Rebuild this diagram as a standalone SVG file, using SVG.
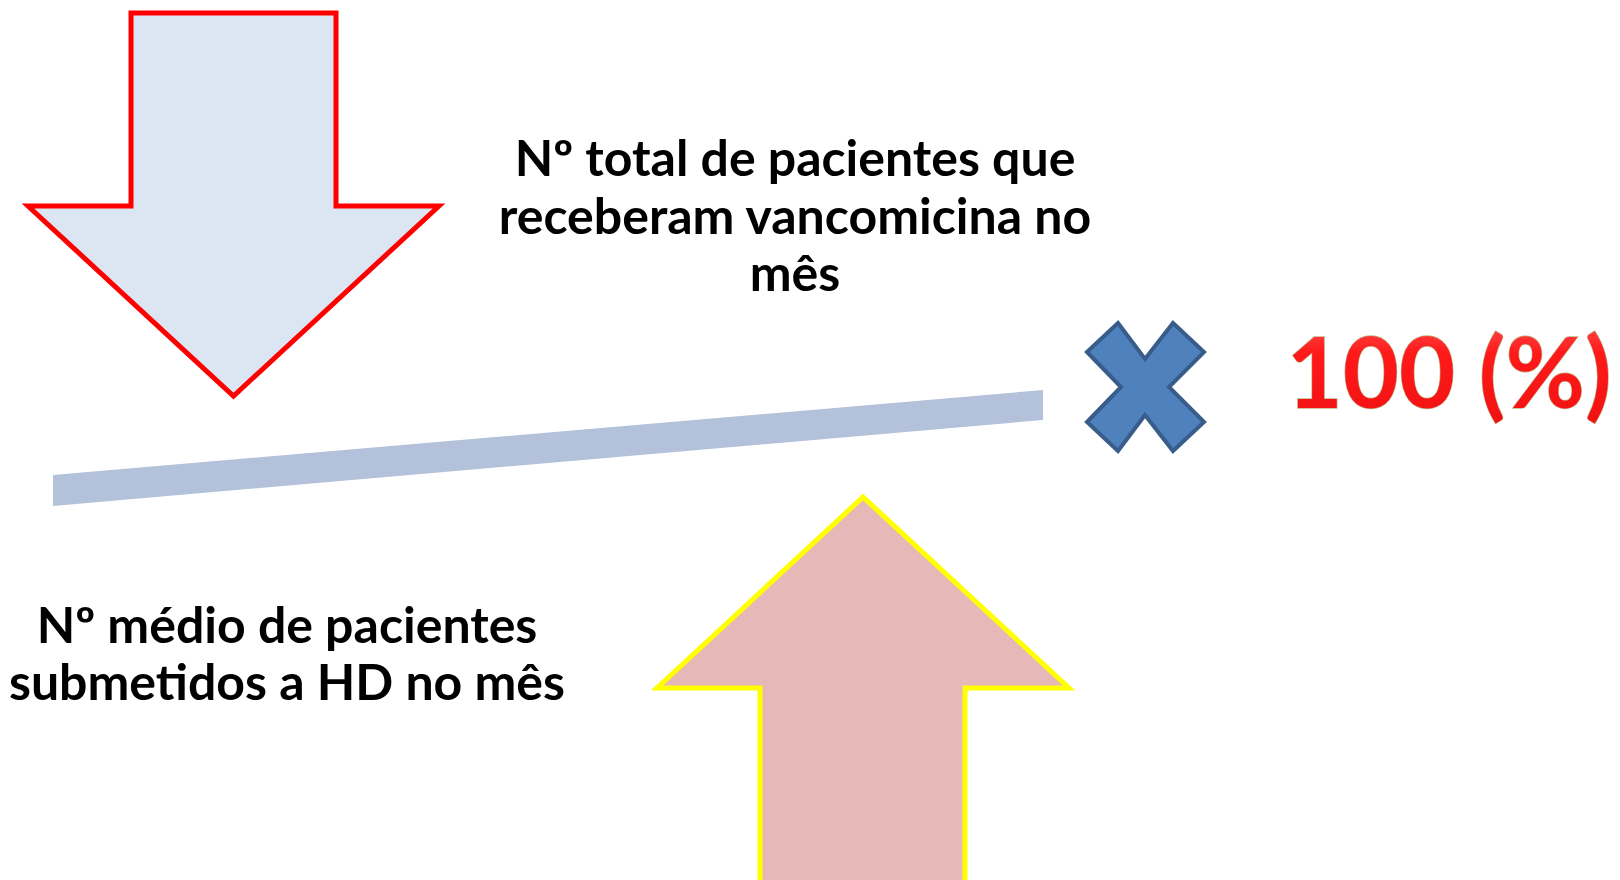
<svg xmlns="http://www.w3.org/2000/svg" width="1620" height="880" viewBox="0 0 1620 880">
  <defs>
    <linearGradient id="redGloss" x1="0" y1="0" x2="0" y2="1">
      <stop offset="0" stop-color="#FF5A5A"/>
      <stop offset="0.35" stop-color="#FF1A1A"/>
      <stop offset="1" stop-color="#F01010"/>
    </linearGradient>
  </defs>
  <style>
    .lbl { font-family: Lato, "Open Sans", "Liberation Sans", sans-serif; font-weight: 700; font-size: 50px; fill: #000000; text-anchor: middle; }
    .pct { font-family: Lato, "Open Sans", "Liberation Sans", sans-serif; font-weight: 700; font-size: 97px; fill: url(#redGloss); stroke: #C2B488; stroke-width: 1.3px; paint-order: stroke; text-anchor: middle; }
    .arrowDown { fill: #DCE6F2; stroke: #FF0000; stroke-width: 5; stroke-linejoin: miter; }
    .arrowUp { fill: #E6B8B7; stroke: #FFFF00; stroke-width: 5; stroke-linejoin: miter; }
  </style>
  <rect width="1620" height="880" fill="#FFFFFF"/>

  <g id="arrow-down">
    <polygon class="arrowDown" points="131,13 336,13 336,206 439,206 233.5,396 28,206 131,206"/>
  </g>

  <g id="arrow-up">
    <polygon class="arrowUp" points="863,497 1069,688 965,688 965,890 760,890 760,688 657,688"/>
  </g>

  <g id="fraction-bar">
    <polygon points="53,475 1043,390 1043,420 53,506" fill="#B3C1DA"/>
  </g>

  <g id="multiply">
    <polygon points="1087,352 1118,323 1145,359 1173,323 1204,352 1169,387 1204,422 1173,451 1145,415 1118,451 1087,422 1121,387" fill="#4F81BD" stroke="#385D8A" stroke-width="4" stroke-linejoin="miter"/>
  </g>

  <g id="numerator">
    <text class="lbl" x="795" y="176">Nº total de pacientes que</text>
    <text class="lbl" x="795" y="234">receberam vancomicina no</text>
    <text class="lbl" x="795" y="291">mês</text>
  </g>

  <g id="denominator">
    <text class="lbl" x="287" y="643">Nº médio de pacientes</text>
    <text class="lbl" x="287" y="700">submetidos a HD no mês</text>
  </g>

  <g id="percent">
    <text class="pct" x="1449" y="408">100 (%)</text>
  </g>
</svg>
